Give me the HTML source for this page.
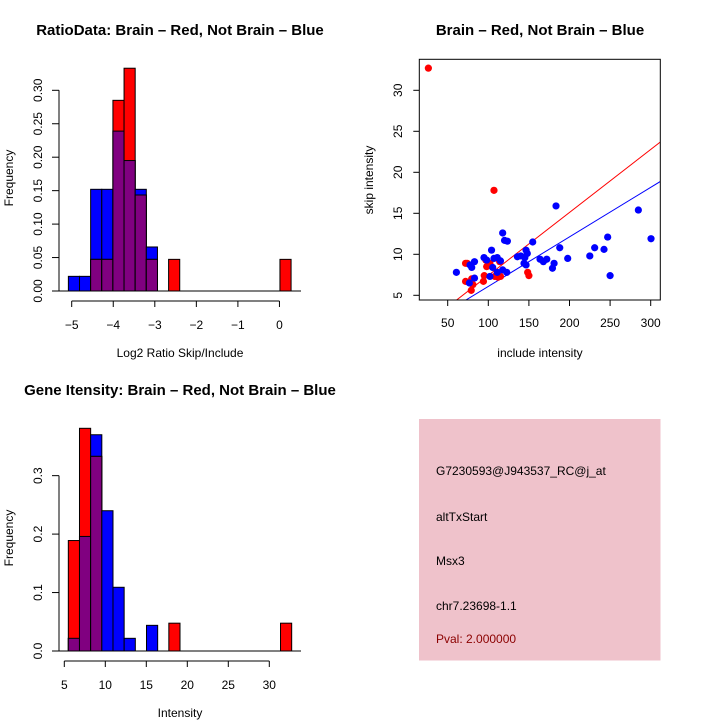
<!DOCTYPE html>
<html><head><meta charset="utf-8"><style>
html,body{margin:0;padding:0;background:#fff}
svg{display:block;font-family:"Liberation Sans",sans-serif}
</style></head><body>
<svg id="s" width="720" height="720" viewBox="0 0 720 720" xmlns="http://www.w3.org/2000/svg">
<rect width="720" height="720" fill="#fff"/>
<text x="180" y="35" text-anchor="middle" font-size="15" font-weight="bold">RatioData: Brain – Red, Not Brain – Blue</text>
<text x="540" y="35" text-anchor="middle" font-size="15" font-weight="bold">Brain – Red, Not Brain – Blue</text>
<text x="180" y="395" text-anchor="middle" font-size="15" font-weight="bold">Gene Itensity: Brain – Red, Not Brain – Blue</text>
<g id="p1"></g>
<g id="p2"></g>
<g id="p3"></g>
<g>
<rect x="419" y="419" width="241.5" height="241.5" fill="#efc2cb"/>
<text x="436" y="475" font-size="12">G7230593@J943537_RC@j_at</text>
<text x="436" y="521" font-size="12">altTxStart</text>
<text x="436" y="565" font-size="12">Msx3</text>
<text x="436" y="610" font-size="12">chr7.23698-1.1</text>
<text x="436" y="643" font-size="12" fill="#8b0000">Pval: 2.000000</text>
</g>
</svg>
<script>
const NS="http://www.w3.org/2000/svg";
// Ratio histogram data
const ratioBinStart=-5.08, ratioBinWidth=0.268;
const ratioBlue=[0.0219,0.0219,0.152,0.152,0.239,0.195,0.152,0.0658,0,0,0,0,0,0,0,0,0,0,0,0];
const ratioRed=[0,0,0.0473,0.0473,0.285,0.333,0.1435,0.0473,0,0.0473,0,0,0,0,0,0,0,0,0,0.0473];
const ratioXTicks=[-5,-4,-3,-2,-1,0];
const ratioYTicks=["0.00","0.05","0.10","0.15","0.20","0.25","0.30"];
// Intensity histogram data
const intBinStart=5.49, intBinWidth=1.362;
const intBlue=[0.0217,0.196,0.37,0.24,0.109,0.0217,0,0.0439,0,0,0,0,0,0,0,0,0,0,0,0];
const intRed=[0.189,0.381,0.333,0,0,0,0,0,0,0.0476,0,0,0,0,0,0,0,0,0,0.0476];
const intXTicks=[5,10,15,20,25,30];
const intYTicks=["0.0","0.1","0.2","0.3"];
// Scatter data
const redX=[26.2,107,148.5,150,72,74,72,79,79.5,81,95,94,98,97,102,108,112,115,114];
const redY=[32.7,17.8,7.8,7.4,8.9,8.9,6.7,5.6,7,6.3,7.4,6.7,8.5,9.3,8.9,7.3,7.2,7.3,9.1];
const blueX=[60.7,76.7,77.5,79.6,83,83,94.7,98,104,102,105.4,107,111,115,117.7,120,123.5,117.7,122.7,111,135.8,140,144,146.5,146.5,148,145,154.7,163.7,167.8,172,179,181,183.4,188,197.8,225,231,242.5,247,250,284.8,300.4];
const blueY=[7.8,6.5,8.7,8.4,9.1,7.1,9.6,9.3,10.5,7.3,8.4,9.5,9.6,9.2,12.6,11.7,11.6,8.1,7.8,7.8,9.7,9.8,8.9,8.7,10.5,10.1,9.6,11.5,9.4,9.1,9.4,8.3,8.9,15.9,10.8,9.5,9.8,10.8,10.6,12.1,7.4,15.4,11.9];
const redFit=[-0.255,0.0768];
const blueFit=[0.045,0.0604];
const scXTicks=[50,100,150,200,250,300];
const scYTicks=[5,10,15,20,25,30];

function mk(parent,tag,attrs){const e=document.createElementNS(NS,tag);for(const k in attrs)e.setAttribute(k,attrs[k]);parent.appendChild(e);return e;}

function hist(g,o){
  const sx=v=>o.x0px+(v-o.x0)*o.kx, sy=v=>o.y0px-v*o.ky;
  for(let i=0;i<o.blue.length;i++){
    const l=sx(o.bs+i*o.bw), r=sx(o.bs+(i+1)*o.bw), b=o.blue[i], rd=o.red[i], m=Math.min(b,rd);
    if(b>0){const e=mk(g,"rect",{x:l,y:sy(b),width:r-l,height:sy(0)-sy(b),fill:"#0000ff",stroke:"#000","stroke-width":1});
      
      }
    if(rd>0){const e=mk(g,"rect",{x:l,y:sy(rd),width:r-l,height:sy(0)-sy(rd),fill:"#ff0000",stroke:"#000","stroke-width":1});
      
      }
    if(m>0){const e=mk(g,"rect",{x:l,y:sy(m),width:r-l,height:sy(0)-sy(m),fill:"#800080",stroke:"#000","stroke-width":1});
      
      }
  }
  mk(g,"line",{x1:59,x2:301,y1:sy(0),y2:sy(0),stroke:"#000"});
  const yv=o.yt.map(Number);
  mk(g,"line",{x1:59,x2:59,y1:sy(yv[0]),y2:sy(yv[yv.length-1]),stroke:"#000"});
  o.yt.forEach(t=>{const y=sy(+t);mk(g,"line",{x1:52,x2:59,y1:y,y2:y,stroke:"#000"});
    const e=mk(g,"text",{x:0,y:0,transform:`translate(42,${y}) rotate(-90)`,"text-anchor":"middle","font-size":12});e.textContent=t;
    
    });
  const ax=o.y0px+10;
  mk(g,"line",{x1:sx(o.xt[0]),x2:sx(o.xt[o.xt.length-1]),y1:ax,y2:ax,stroke:"#000"});
  o.xt.forEach(t=>{const x=sx(t);mk(g,"line",{x1:x,x2:x,y1:ax,y2:ax+6,stroke:"#000"});
    const e=mk(g,"text",{x:x,y:ax+28,"text-anchor":"middle","font-size":12});e.textContent=String(t).replace('-','\u2212');
    
    });
  const xl=mk(g,"text",{x:180,y:o.y0px+66,"text-anchor":"middle","font-size":12});xl.textContent=o.xlab;
  
  
  const yl=mk(g,"text",{x:0,y:0,transform:`translate(13,${o.ymid}) rotate(-90)`,"text-anchor":"middle","font-size":12});yl.textContent="Frequency";
  
  
}
hist(document.getElementById("p1"),{x0:-5,x0px:71.7,kx:41.55,y0px:291,ky:669,bs:ratioBinStart,bw:ratioBinWidth,blue:ratioBlue,red:ratioRed,xt:ratioXTicks,yt:ratioYTicks,xlab:"Log2 Ratio Skip/Include",ymid:178});
hist(document.getElementById("p3"),{x0:5,x0px:64.3,kx:8.2,y0px:651,ky:584.5,bs:intBinStart,bw:intBinWidth,blue:intBlue,red:intRed,xt:intXTicks,yt:intYTicks,xlab:"Intensity",ymid:538});

(function(){
  const g=document.getElementById("p2");
  const L=419.3,R=660.3,T=59.3,B=300;
  const sx=v=>447.7+(v-50)*0.812, sy=v=>295.3-(v-5)*8.2;
  const cp=mk(g,"clipPath",{id:"cp"});mk(cp,"rect",{x:L,y:T,width:R-L,height:B-T});
  const pts=mk(g,"g",{"clip-path":"url(#cp)"});
  [[redFit,"#ff0000","red-fit-line"],[blueFit,"#0000ff","blue-fit-line"]].forEach(([f,c,n])=>{
    const e=mk(pts,"line",{x1:sx(0),y1:sy(f[0]),x2:sx(320),y2:sy(f[0]+f[1]*320),stroke:c,"stroke-width":1});
    
    });
  redX.forEach((x,i)=>{const e=mk(pts,"circle",{cx:sx(x),cy:sy(redY[i]),r:3.6,fill:"#ff0000"});
    
    });
  blueX.forEach((x,i)=>{const e=mk(pts,"circle",{cx:sx(x),cy:sy(blueY[i]),r:3.6,fill:"#0000ff"});
    
    });
  mk(g,"rect",{x:L,y:T,width:R-L,height:B-T,fill:"none",stroke:"#000"});
  scXTicks.forEach(t=>{const x=sx(t);mk(g,"line",{x1:x,x2:x,y1:B,y2:B+6,stroke:"#000"});
    const e=mk(g,"text",{x:x,y:B+27,"text-anchor":"middle","font-size":12});e.textContent=t;
    
    });
  scYTicks.forEach(t=>{const y=sy(t);mk(g,"line",{x1:L-6,x2:L,y1:y,y2:y,stroke:"#000"});
    const e=mk(g,"text",{x:0,y:0,transform:`translate(402,${y}) rotate(-90)`,"text-anchor":"middle","font-size":12});e.textContent=t;
    
    });
  const xl=mk(g,"text",{x:540,y:357,"text-anchor":"middle","font-size":12});xl.textContent="include intensity";
  
  
  const yl=mk(g,"text",{x:0,y:0,transform:`translate(373,180) rotate(-90)`,"text-anchor":"middle","font-size":12});yl.textContent="skip intensity";
  
  
})();
</script>
</body></html>
